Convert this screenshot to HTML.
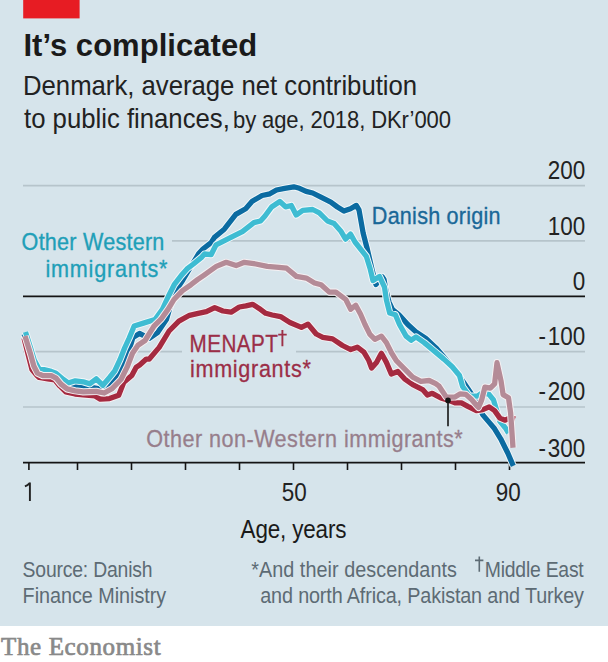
<!DOCTYPE html>
<html><head><meta charset="utf-8"><style>
html,body{margin:0;padding:0;background:#fff;}
body{width:608px;height:662px;overflow:hidden;position:relative;}
svg{position:absolute;left:0;top:0;}
text{font-family:"Liberation Sans",sans-serif;}
</style></head><body>
<svg width="608" height="662" viewBox="0 0 608 662">
<rect x="0" y="0" width="608" height="626" fill="#d6e4eb"/>
<rect x="23.2" y="0" width="56.4" height="18.4" fill="#e71c23"/>
<text transform="translate(23.4 56) scale(0.97 1)" font-size="32" font-weight="bold" fill="#1a1a1a" letter-spacing="0.028">It’s complicated</text>
<text transform="translate(23.0 94.5) scale(0.92 1)" font-size="28" fill="#222" letter-spacing="-0.031">Denmark, average net contribution</text>
<text transform="translate(24.0 127.7) scale(0.92 1)" font-size="28" fill="#222" letter-spacing="-0.017">to public finances,</text>
<text transform="translate(233.0 127.7) scale(0.9 1)" font-size="24.5" fill="#222" letter-spacing="-0.122">by age, 2018, DKr’000</text>
<!-- gridlines -->
<g stroke="#b6c4cb" stroke-width="1.6" fill="none">
<line x1="23" y1="185.6" x2="585" y2="185.6"/>
<line x1="23" y1="240.9" x2="585" y2="240.9"/>
<line x1="23" y1="351.6" x2="585" y2="351.6"/>
<line x1="23" y1="407.0" x2="585" y2="407.0"/>
</g>
<g stroke="#141414" stroke-width="1.8">
<line x1="23" y1="296.3" x2="585" y2="296.3"/>
<line x1="23" y1="462.6" x2="585" y2="462.6"/>
</g>
<g stroke="#141414" stroke-width="1.6">
<line x1="28.9" y1="462" x2="28.9" y2="470"/>
<line x1="77.5" y1="462" x2="77.5" y2="470"/>
<line x1="131.5" y1="462" x2="131.5" y2="470"/>
<line x1="185.5" y1="462" x2="185.5" y2="470"/>
<line x1="239.5" y1="462" x2="239.5" y2="470"/>
<line x1="293.5" y1="462" x2="293.5" y2="470"/>
<line x1="347.5" y1="462" x2="347.5" y2="470"/>
<line x1="401.5" y1="462" x2="401.5" y2="470"/>
<line x1="455.5" y1="462" x2="455.5" y2="470"/>
<line x1="509.5" y1="462" x2="509.5" y2="470"/>
</g>
<text transform="translate(585.2 179.2) scale(0.88 1)" font-size="25.5" fill="#222" letter-spacing="0" text-anchor="end">200</text>
<text transform="translate(585.2 234.5) scale(0.88 1)" font-size="25.5" fill="#222" letter-spacing="0" text-anchor="end">100</text>
<text transform="translate(585.2 289.8) scale(0.88 1)" font-size="25.5" fill="#222" letter-spacing="0" text-anchor="end">0</text>
<text transform="translate(585.2 345.1) scale(0.88 1)" font-size="25.5" fill="#222" letter-spacing="0" text-anchor="end">-<tspan dx="2">100</tspan></text>
<text transform="translate(585.2 400.4) scale(0.88 1)" font-size="25.5" fill="#222" letter-spacing="0" text-anchor="end">-<tspan dx="2">200</tspan></text>
<text transform="translate(585.2 456.8) scale(0.88 1)" font-size="25.5" fill="#222" letter-spacing="0" text-anchor="end">-<tspan dx="2">300</tspan></text>
<!-- label boxes -->
<rect x="20" y="228" width="152" height="58" fill="#d6e4eb"/>
<rect x="182" y="328" width="114" height="56" fill="#d6e4eb"/>
<g fill="none" stroke-linejoin="round" stroke-linecap="butt">
<polyline stroke="#f2f8fa" stroke-width="7.2" points="24.0,334.0 29.5,348.0 33.0,361.0 38.0,370.0 44.0,372.0 51.0,374.0 56.0,376.0 63.0,382.0 70.0,386.0 80.5,387.4 91.0,387.4 102.9,389.3 114.5,378.5 123.8,363.7 129.0,350.5 132.9,337.6 139.5,333.5 144.4,335.9 149.3,338.4 157.6,332.6 166.5,319.2 170.8,304.4 176.5,289.6 183.0,279.7 190.0,268.0 199.0,253.2 202.9,249.0 211.1,242.6 214.4,237.4 224.3,229.2 235.8,214.4 245.7,208.7 252.2,201.3 262.1,195.5 269.9,193.8 276.5,190.0 284.7,188.3 293.8,186.8 299.5,188.3 306.1,191.4 312.7,193.0 320.9,197.1 330.8,202.1 337.4,207.0 343.9,211.1 350.5,208.7 356.3,205.4 359.0,209.9 363.1,232.9 367.5,250.0 372.6,272.0 376.0,284.5 382.0,276.5 384.0,279.5 385.8,289.6 389.0,302.0 392.5,309.5 399.0,314.8 407.8,324.5 416.0,331.9 425.9,338.5 435.7,347.6 445.6,359.1 455.5,370.6 461.0,378.6 467.6,388.2 474.0,397.8 478.5,406.3 482.8,414.9 489.2,422.4 494.6,428.8 500.7,438.8 507.9,453.3 513.3,465.9"/>
<polyline stroke="#0b6ba1" stroke-width="5.3" points="24.0,334.0 29.5,348.0 33.0,361.0 38.0,370.0 44.0,372.0 51.0,374.0 56.0,376.0 63.0,382.0 70.0,386.0 80.5,387.4 91.0,387.4 102.9,389.3 114.5,378.5 123.8,363.7 129.0,350.5 132.9,337.6 139.5,333.5 144.4,335.9 149.3,338.4 157.6,332.6 166.5,319.2 170.8,304.4 176.5,289.6 183.0,279.7 190.0,268.0 199.0,253.2 202.9,249.0 211.1,242.6 214.4,237.4 224.3,229.2 235.8,214.4 245.7,208.7 252.2,201.3 262.1,195.5 269.9,193.8 276.5,190.0 284.7,188.3 293.8,186.8 299.5,188.3 306.1,191.4 312.7,193.0 320.9,197.1 330.8,202.1 337.4,207.0 343.9,211.1 350.5,208.7 356.3,205.4 359.0,209.9 363.1,232.9 367.5,250.0 372.6,272.0 376.0,284.5 382.0,276.5 384.0,279.5 385.8,289.6 389.0,302.0 392.5,309.5 399.0,314.8 407.8,324.5 416.0,331.9 425.9,338.5 435.7,347.6 445.6,359.1 455.5,370.6 461.0,378.6 467.6,388.2 474.0,397.8 478.5,406.3 482.8,414.9 489.2,422.4 494.6,428.8 500.7,438.8 507.9,453.3 513.3,465.9"/>
<polyline stroke="#f2f8fa" stroke-width="7.2" points="25.5,332.0 30.6,348.0 34.2,360.0 38.8,368.4 44.0,369.6 51.3,371.4 56.0,373.2 63.4,379.5 68.2,383.0 75.3,380.8 83.2,381.8 89.7,383.8 96.3,378.8 102.9,385.3 109.5,377.5 114.7,371.0 120.0,359.7 124.6,348.0 129.2,338.0 134.2,326.0 143.5,323.1 155.0,319.5 162.4,309.4 168.3,296.5 174.2,284.7 181.0,275.8 187.0,268.9 193.4,264.0 201.8,257.1 204.5,254.0 211.1,254.7 216.1,244.8 230.9,237.4 242.4,231.7 253.9,222.6 260.5,221.0 265.0,216.0 271.6,207.0 279.8,201.5 285.6,206.8 291.3,205.5 296.2,215.0 302.8,210.3 312.7,209.5 319.3,212.8 327.5,221.0 334.1,223.5 340.7,230.9 345.6,239.1 350.5,234.1 355.0,242.0 360.8,249.3 366.3,256.3 370.3,269.3 373.0,280.6 379.5,276.5 384.5,287.2 386.4,299.9 389.7,313.0 395.4,314.7 399.5,324.5 406.1,336.1 411.1,340.2 416.0,336.9 424.2,342.6 434.1,350.9 443.9,359.1 452.2,366.8 459.5,375.5 462.6,386.5 469.5,396.0 477.4,396.2 482.8,392.4 489.2,394.6 493.5,399.9 496.7,410.6 499.9,421.3 505.2,427.7 508.5,433.0"/>
<polyline stroke="#3ebcd2" stroke-width="5.3" points="25.5,332.0 30.6,348.0 34.2,360.0 38.8,368.4 44.0,369.6 51.3,371.4 56.0,373.2 63.4,379.5 68.2,383.0 75.3,380.8 83.2,381.8 89.7,383.8 96.3,378.8 102.9,385.3 109.5,377.5 114.7,371.0 120.0,359.7 124.6,348.0 129.2,338.0 134.2,326.0 143.5,323.1 155.0,319.5 162.4,309.4 168.3,296.5 174.2,284.7 181.0,275.8 187.0,268.9 193.4,264.0 201.8,257.1 204.5,254.0 211.1,254.7 216.1,244.8 230.9,237.4 242.4,231.7 253.9,222.6 260.5,221.0 265.0,216.0 271.6,207.0 279.8,201.5 285.6,206.8 291.3,205.5 296.2,215.0 302.8,210.3 312.7,209.5 319.3,212.8 327.5,221.0 334.1,223.5 340.7,230.9 345.6,239.1 350.5,234.1 355.0,242.0 360.8,249.3 366.3,256.3 370.3,269.3 373.0,280.6 379.5,276.5 384.5,287.2 386.4,299.9 389.7,313.0 395.4,314.7 399.5,324.5 406.1,336.1 411.1,340.2 416.0,336.9 424.2,342.6 434.1,350.9 443.9,359.1 452.2,366.8 459.5,375.5 462.6,386.5 469.5,396.0 477.4,396.2 482.8,392.4 489.2,394.6 493.5,399.9 496.7,410.6 499.9,421.3 505.2,427.7 508.5,433.0"/>
<polyline stroke="#f6f1f3" stroke-width="7.2" points="24.0,338.0 28.3,355.0 32.0,369.5 37.0,375.5 39.2,377.5 47.7,378.8 54.9,380.0 59.8,386.0 65.8,392.0 75.0,394.0 83.2,394.8 95.0,395.9 100.3,399.2 109.5,398.6 118.7,395.3 123.9,382.1 131.8,375.5 136.2,367.2 139.7,365.0 146.3,359.1 149.3,359.0 159.2,347.4 169.1,331.0 178.9,321.1 189.5,315.3 198.2,313.3 206.4,311.7 214.7,307.6 222.9,311.0 231.1,312.2 239.3,307.0 245.9,305.9 252.5,304.3 259.1,308.4 265.7,313.3 272.2,315.0 280.5,316.6 289.9,322.5 301.4,327.4 308.0,324.1 316.2,334.0 322.8,337.3 332.6,338.9 342.5,345.5 350.7,349.6 357.3,347.2 363.9,352.1 368.8,360.5 371.6,368.0 376.5,362.4 381.4,353.3 386.4,362.4 391.3,373.9 397.9,371.4 404.5,378.8 412.7,384.6 422.6,389.5 427.4,395.0 432.3,393.3 440.9,398.0 449.9,400.7 455.0,402.8 461.4,402.8 467.8,406.3 476.4,410.6 482.8,409.6 489.2,406.9 494.6,410.6 499.9,418.1 505.2,420.2 510.6,417.6 515.0,419.0"/>
<polyline stroke="#a52a40" stroke-width="5.3" points="24.0,338.0 28.3,355.0 32.0,369.5 37.0,375.5 39.2,377.5 47.7,378.8 54.9,380.0 59.8,386.0 65.8,392.0 75.0,394.0 83.2,394.8 95.0,395.9 100.3,399.2 109.5,398.6 118.7,395.3 123.9,382.1 131.8,375.5 136.2,367.2 139.7,365.0 146.3,359.1 149.3,359.0 159.2,347.4 169.1,331.0 178.9,321.1 189.5,315.3 198.2,313.3 206.4,311.7 214.7,307.6 222.9,311.0 231.1,312.2 239.3,307.0 245.9,305.9 252.5,304.3 259.1,308.4 265.7,313.3 272.2,315.0 280.5,316.6 289.9,322.5 301.4,327.4 308.0,324.1 316.2,334.0 322.8,337.3 332.6,338.9 342.5,345.5 350.7,349.6 357.3,347.2 363.9,352.1 368.8,360.5 371.6,368.0 376.5,362.4 381.4,353.3 386.4,362.4 391.3,373.9 397.9,371.4 404.5,378.8 412.7,384.6 422.6,389.5 427.4,395.0 432.3,393.3 440.9,398.0 449.9,400.7 455.0,402.8 461.4,402.8 467.8,406.3 476.4,410.6 482.8,409.6 489.2,406.9 494.6,410.6 499.9,418.1 505.2,420.2 510.6,417.6 515.0,419.0"/>
<polyline stroke="#f6f1f3" stroke-width="7.2" points="25.0,336.0 30.5,353.9 33.8,366.0 37.5,373.2 42.8,375.6 51.3,375.6 56.1,378.1 61.0,384.1 67.0,388.9 75.0,390.8 83.2,391.9 96.3,391.3 104.2,393.0 112.1,388.7 121.0,379.5 127.5,366.3 132.5,353.2 138.0,345.3 145.0,340.5 154.0,326.1 161.0,319.2 168.0,309.4 174.0,299.5 182.5,290.6 191.0,284.7 197.5,279.7 204.5,274.8 210.0,270.9 216.3,266.4 226.2,262.3 236.1,265.6 244.3,262.3 255.8,264.0 267.3,266.4 278.8,267.3 286.6,268.2 296.4,276.4 306.3,278.1 314.5,283.0 321.1,284.7 329.3,292.1 335.9,292.1 345.8,299.5 350.7,309.3 355.7,305.2 360.6,314.3 365.0,324.5 369.9,334.4 374.9,339.3 381.4,336.1 386.4,342.6 391.3,352.5 396.3,360.7 404.5,368.9 412.7,377.2 420.9,381.3 429.1,380.5 435.7,383.7 439.1,386.2 446.3,397.1 455.0,397.0 460.3,393.8 465.7,394.3 471.0,398.9 476.4,405.3 478.5,407.4 481.7,399.9 484.9,387.1 490.3,388.2 494.6,383.9 497.0,362.7 501.0,380.7 503.1,394.6 508.5,397.8 510.6,412.8 513.0,447.8"/>
<polyline stroke="#b48b97" stroke-width="5.3" points="25.0,336.0 30.5,353.9 33.8,366.0 37.5,373.2 42.8,375.6 51.3,375.6 56.1,378.1 61.0,384.1 67.0,388.9 75.0,390.8 83.2,391.9 96.3,391.3 104.2,393.0 112.1,388.7 121.0,379.5 127.5,366.3 132.5,353.2 138.0,345.3 145.0,340.5 154.0,326.1 161.0,319.2 168.0,309.4 174.0,299.5 182.5,290.6 191.0,284.7 197.5,279.7 204.5,274.8 210.0,270.9 216.3,266.4 226.2,262.3 236.1,265.6 244.3,262.3 255.8,264.0 267.3,266.4 278.8,267.3 286.6,268.2 296.4,276.4 306.3,278.1 314.5,283.0 321.1,284.7 329.3,292.1 335.9,292.1 345.8,299.5 350.7,309.3 355.7,305.2 360.6,314.3 365.0,324.5 369.9,334.4 374.9,339.3 381.4,336.1 386.4,342.6 391.3,352.5 396.3,360.7 404.5,368.9 412.7,377.2 420.9,381.3 429.1,380.5 435.7,383.7 439.1,386.2 446.3,397.1 455.0,397.0 460.3,393.8 465.7,394.3 471.0,398.9 476.4,405.3 478.5,407.4 481.7,399.9 484.9,387.1 490.3,388.2 494.6,383.9 497.0,362.7 501.0,380.7 503.1,394.6 508.5,397.8 510.6,412.8 513.0,447.8"/>
</g>
<line x1="448" y1="400" x2="448" y2="426.3" stroke="#141414" stroke-width="1.6"/>
<circle cx="448" cy="400.4" r="2.8" fill="#141414"/>
<text transform="translate(21.6 250) scale(0.92 1)" font-size="23.5" fill="#1f9fb8" letter-spacing="0.243" stroke="#1f9fb8" stroke-width="0.35">Other Western</text>
<text transform="translate(45.4 276.5) scale(0.92 1)" font-size="23.5" fill="#1f9fb8" letter-spacing="0.869" stroke="#1f9fb8" stroke-width="0.35">immigrants*</text>
<text transform="translate(371.8 224) scale(0.92 1)" font-size="23.5" fill="#1a6898" letter-spacing="0.243" stroke="#1a6898" stroke-width="0.35">Danish origin</text>
<text transform="translate(189.6 351.7) scale(0.88 1)" font-size="23.5" fill="#9b2e47" letter-spacing="0.5" stroke="#9b2e47" stroke-width="0.3">MENAPT</text>
<text transform="translate(190.0 377) scale(0.92 1)" font-size="23.5" fill="#9b2e47" letter-spacing="0.739" stroke="#9b2e47" stroke-width="0.3">immigrants*</text>
<text transform="translate(146.2 446.7) scale(0.92 1)" font-size="23.5" fill="#977e8b" letter-spacing="0.509" stroke="#977e8b" stroke-width="0.3">Other non-Western immigrants*</text>
<text transform="translate(281.8 501.1) scale(0.88 1)" font-size="25.5" fill="#222" letter-spacing="0">50</text>
<text transform="translate(495.8 501) scale(0.88 1)" font-size="25.5" fill="#222" letter-spacing="0">90</text>
<text transform="translate(240.6 538) scale(0.88 1)" font-size="25.5" fill="#1a1a1a" letter-spacing="-0.171">Age, years</text>
<text transform="translate(22.6 576.6) scale(0.88 1)" font-size="22" fill="#5d6b74" letter-spacing="-0.209">Source: Danish</text>
<text transform="translate(22.6 602.6) scale(0.9 1)" font-size="22" fill="#5d6b74" letter-spacing="-0.028">Finance Ministry</text>
<text transform="translate(251.2 577.2) scale(0.9 1)" font-size="22" fill="#5d6b74" letter-spacing="0.064">*And their descendants</text>
<text transform="translate(484.8 577.2) scale(0.88 1)" font-size="22" fill="#5d6b74" letter-spacing="-0.249">Middle East</text>
<text transform="translate(260.2 602.6) scale(0.9 1)" font-size="22" fill="#5d6b74" letter-spacing="-0.154">and north Africa, Pakistan and Turkey</text>
<text transform="translate(1.0 654.6) scale(1.0 1)" font-size="25" style="font-family:'Liberation Serif', serif" fill="#898989" letter-spacing="0.633" stroke="#898989" stroke-width="0.7">The Economist</text>
<path d="M29.9 482.4 V501 M29.9 482.8 Q27.8 485.3 24.9 486.4" stroke="#222" stroke-width="1.9" fill="none"/>
<path d="M282.4 330 V346.2 M278.2 334.6 H286.7" stroke="#9d3047" stroke-width="1.9" fill="none"/>
<path d="M479.3 556.5 V571.7 M475 560.4 H483.4" stroke="#5d6b74" stroke-width="1.6" fill="none"/>
</svg>
</body></html>
